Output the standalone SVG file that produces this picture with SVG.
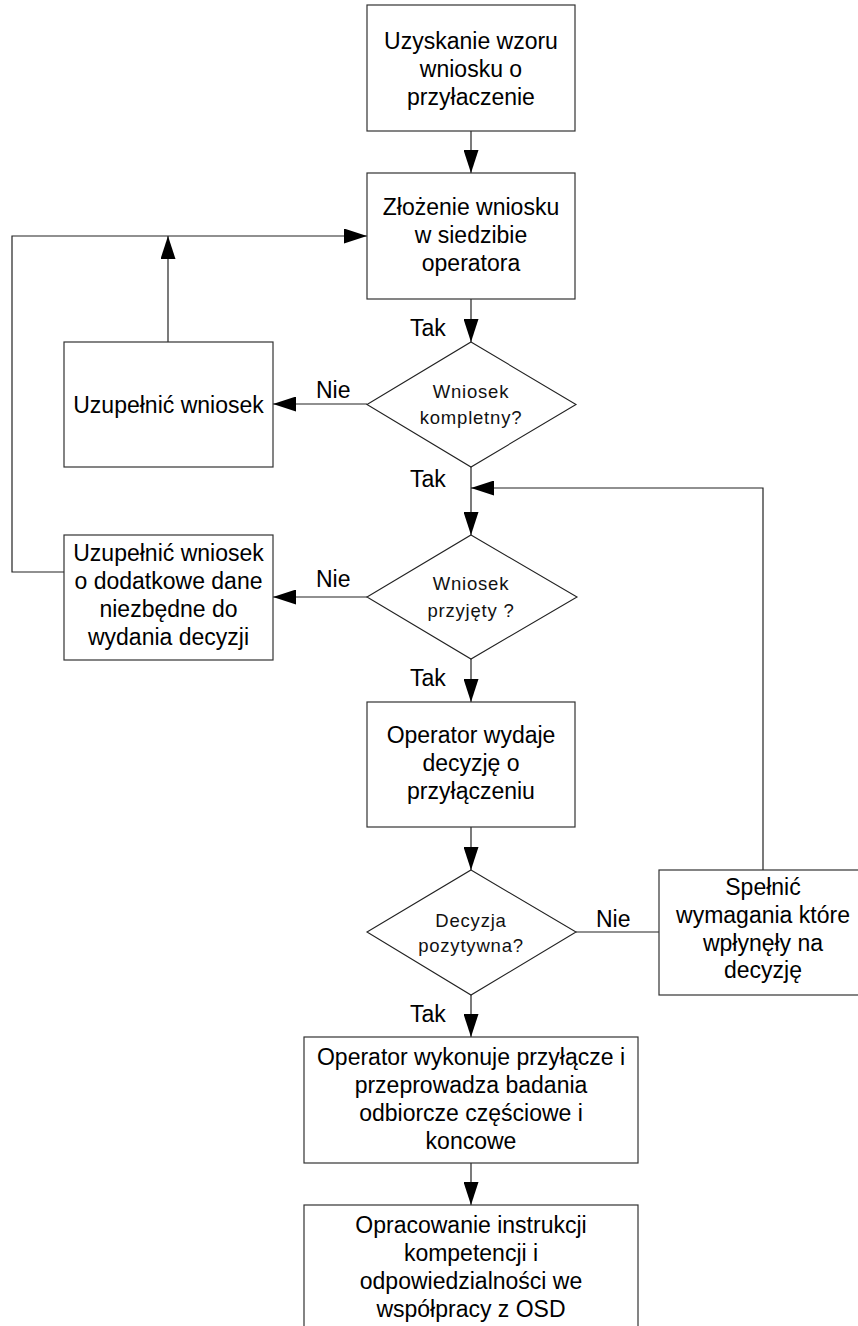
<svg xmlns="http://www.w3.org/2000/svg" width="858" height="1326" viewBox="0 0 858 1326">
  <style>
    .box { fill: #ffffff; stroke: #333333; stroke-width: 1.2; }
    .dia { fill: #ffffff; stroke: #222222; stroke-width: 1.1; }
    .t { font-family: "Liberation Sans", Arial, sans-serif; font-size: 23px; fill: #000000; text-anchor: middle; }
    .d { font-family: "Liberation Sans", Arial, sans-serif; font-size: 18.5px; letter-spacing: 0.8px; fill: #111111; text-anchor: middle; }
    .lbl { font-family: "Liberation Sans", Arial, sans-serif; font-size: 23px; fill: #000000; }
    .con { fill: none; stroke: #222222; stroke-width: 1.2; }
  </style>
  <defs>
    <marker id="arrow" viewBox="0 0 23 15" refX="23" refY="7.5" markerWidth="23" markerHeight="15" markerUnits="userSpaceOnUse" orient="auto">
      <path d="M0,0 L23,7.5 L0,15 z" fill="#000000"/>
    </marker>
  </defs>

  <rect width="858" height="1326" fill="#ffffff"/>

  <!-- connectors -->
  <g id="connectors">
    <path class="con" d="M471,131 V173" marker-end="url(#arrow)"/>
    <path class="con" d="M471,299 V342" marker-end="url(#arrow)"/>
    <path class="con" d="M367,404 H273" marker-end="url(#arrow)"/>
    <path class="con" d="M168,342 V236" marker-end="url(#arrow)"/>
    <path class="con" d="M64,572 H12 V236 H367" marker-end="url(#arrow)"/>
    <path class="con" d="M471,467 V535" marker-end="url(#arrow)"/>
    <path class="con" d="M763,870 V488 H471" marker-end="url(#arrow)"/>
    <path class="con" d="M367,597 H273" marker-end="url(#arrow)"/>
    <path class="con" d="M471,659 V702" marker-end="url(#arrow)"/>
    <path class="con" d="M471,827 V870" marker-end="url(#arrow)"/>
    <path class="con" d="M576,932 H659"/>
    <path class="con" d="M471,995 V1037" marker-end="url(#arrow)"/>
    <path class="con" d="M471,1163 V1205" marker-end="url(#arrow)"/>
  </g>

  <!-- connector labels -->
  <g id="labels">
    <text class="lbl" x="410" y="336">Tak</text>
    <text class="lbl" x="316" y="398">Nie</text>
    <text class="lbl" x="410" y="487">Tak</text>
    <text class="lbl" x="316" y="587">Nie</text>
    <text class="lbl" x="410" y="686">Tak</text>
    <text class="lbl" x="596" y="927">Nie</text>
    <text class="lbl" x="410" y="1022">Tak</text>
  </g>

  <g id="n-wzor">
    <rect class="box" x="367" y="5" width="208" height="126"/>
    <text class="t" x="471" y="49">Uzyskanie wzoru</text>
    <text class="t" x="471" y="77">wniosku o</text>
    <text class="t" x="471" y="105">przyłaczenie</text>
  </g>

  <g id="n-zlozenie">
    <rect class="box" x="367" y="173" width="208" height="126"/>
    <text class="t" x="471" y="215">Złożenie wniosku</text>
    <text class="t" x="471" y="243">w siedzibie</text>
    <text class="t" x="471" y="271">operatora</text>
  </g>

  <g id="n-kompletny">
    <polygon class="dia" points="471,342 576,404.5 471,467 367,404.5"/>
    <text class="d" x="471" y="398">Wniosek</text>
    <text class="d" x="471" y="424">kompletny?</text>
  </g>

  <g id="n-uzupelnic">
    <rect class="box" x="64" y="342" width="209" height="125"/>
    <text class="t" x="168.5" y="413">Uzupełnić wniosek</text>
  </g>

  <g id="n-przyjety">
    <polygon class="dia" points="471,535 577,597 471,659 367,597"/>
    <text class="d" x="471" y="590">Wniosek</text>
    <text class="d" x="471" y="617">przyjęty ?</text>
  </g>

  <g id="n-uzupelnic-dane">
    <rect class="box" x="64" y="535" width="209" height="125"/>
    <text class="t" x="168.5" y="561">Uzupełnić wniosek</text>
    <text class="t" x="168.5" y="589">o dodatkowe dane</text>
    <text class="t" x="168.5" y="617">niezbędne do</text>
    <text class="t" x="168.5" y="645">wydania decyzji</text>
  </g>

  <g id="n-decyzja-wydana">
    <rect class="box" x="367" y="702" width="208" height="125"/>
    <text class="t" x="471" y="743">Operator wydaje</text>
    <text class="t" x="471" y="771">decyzję o</text>
    <text class="t" x="471" y="799">przyłączeniu</text>
  </g>

  <g id="n-pozytywna">
    <polygon class="dia" points="471,870 576,932 471,995 367,932"/>
    <text class="d" x="471" y="927">Decyzja</text>
    <text class="d" x="471" y="952">pozytywna?</text>
  </g>

  <g id="n-spelnic">
    <rect class="box" x="659" y="870" width="208" height="125"/>
    <text class="t" x="763" y="895">Spełnić</text>
    <text class="t" x="763" y="923">wymagania które</text>
    <text class="t" x="763" y="951">wpłynęły na</text>
    <text class="t" x="763" y="978">decyzję</text>
  </g>

  <g id="n-przylacze">
    <rect class="box" x="304" y="1037" width="334" height="126"/>
    <text class="t" x="471" y="1065">Operator wykonuje przyłącze i</text>
    <text class="t" x="471" y="1093">przeprowadza badania</text>
    <text class="t" x="471" y="1121">odbiorcze częściowe i</text>
    <text class="t" x="471" y="1149">koncowe</text>
  </g>

  <g id="n-instrukcja">
    <rect class="box" x="304" y="1205" width="334" height="140"/>
    <text class="t" x="471" y="1233">Opracowanie instrukcji</text>
    <text class="t" x="471" y="1261">kompetencji i</text>
    <text class="t" x="471" y="1289">odpowiedzialności we</text>
    <text class="t" x="471" y="1317">współpracy z OSD</text>
  </g>
</svg>
